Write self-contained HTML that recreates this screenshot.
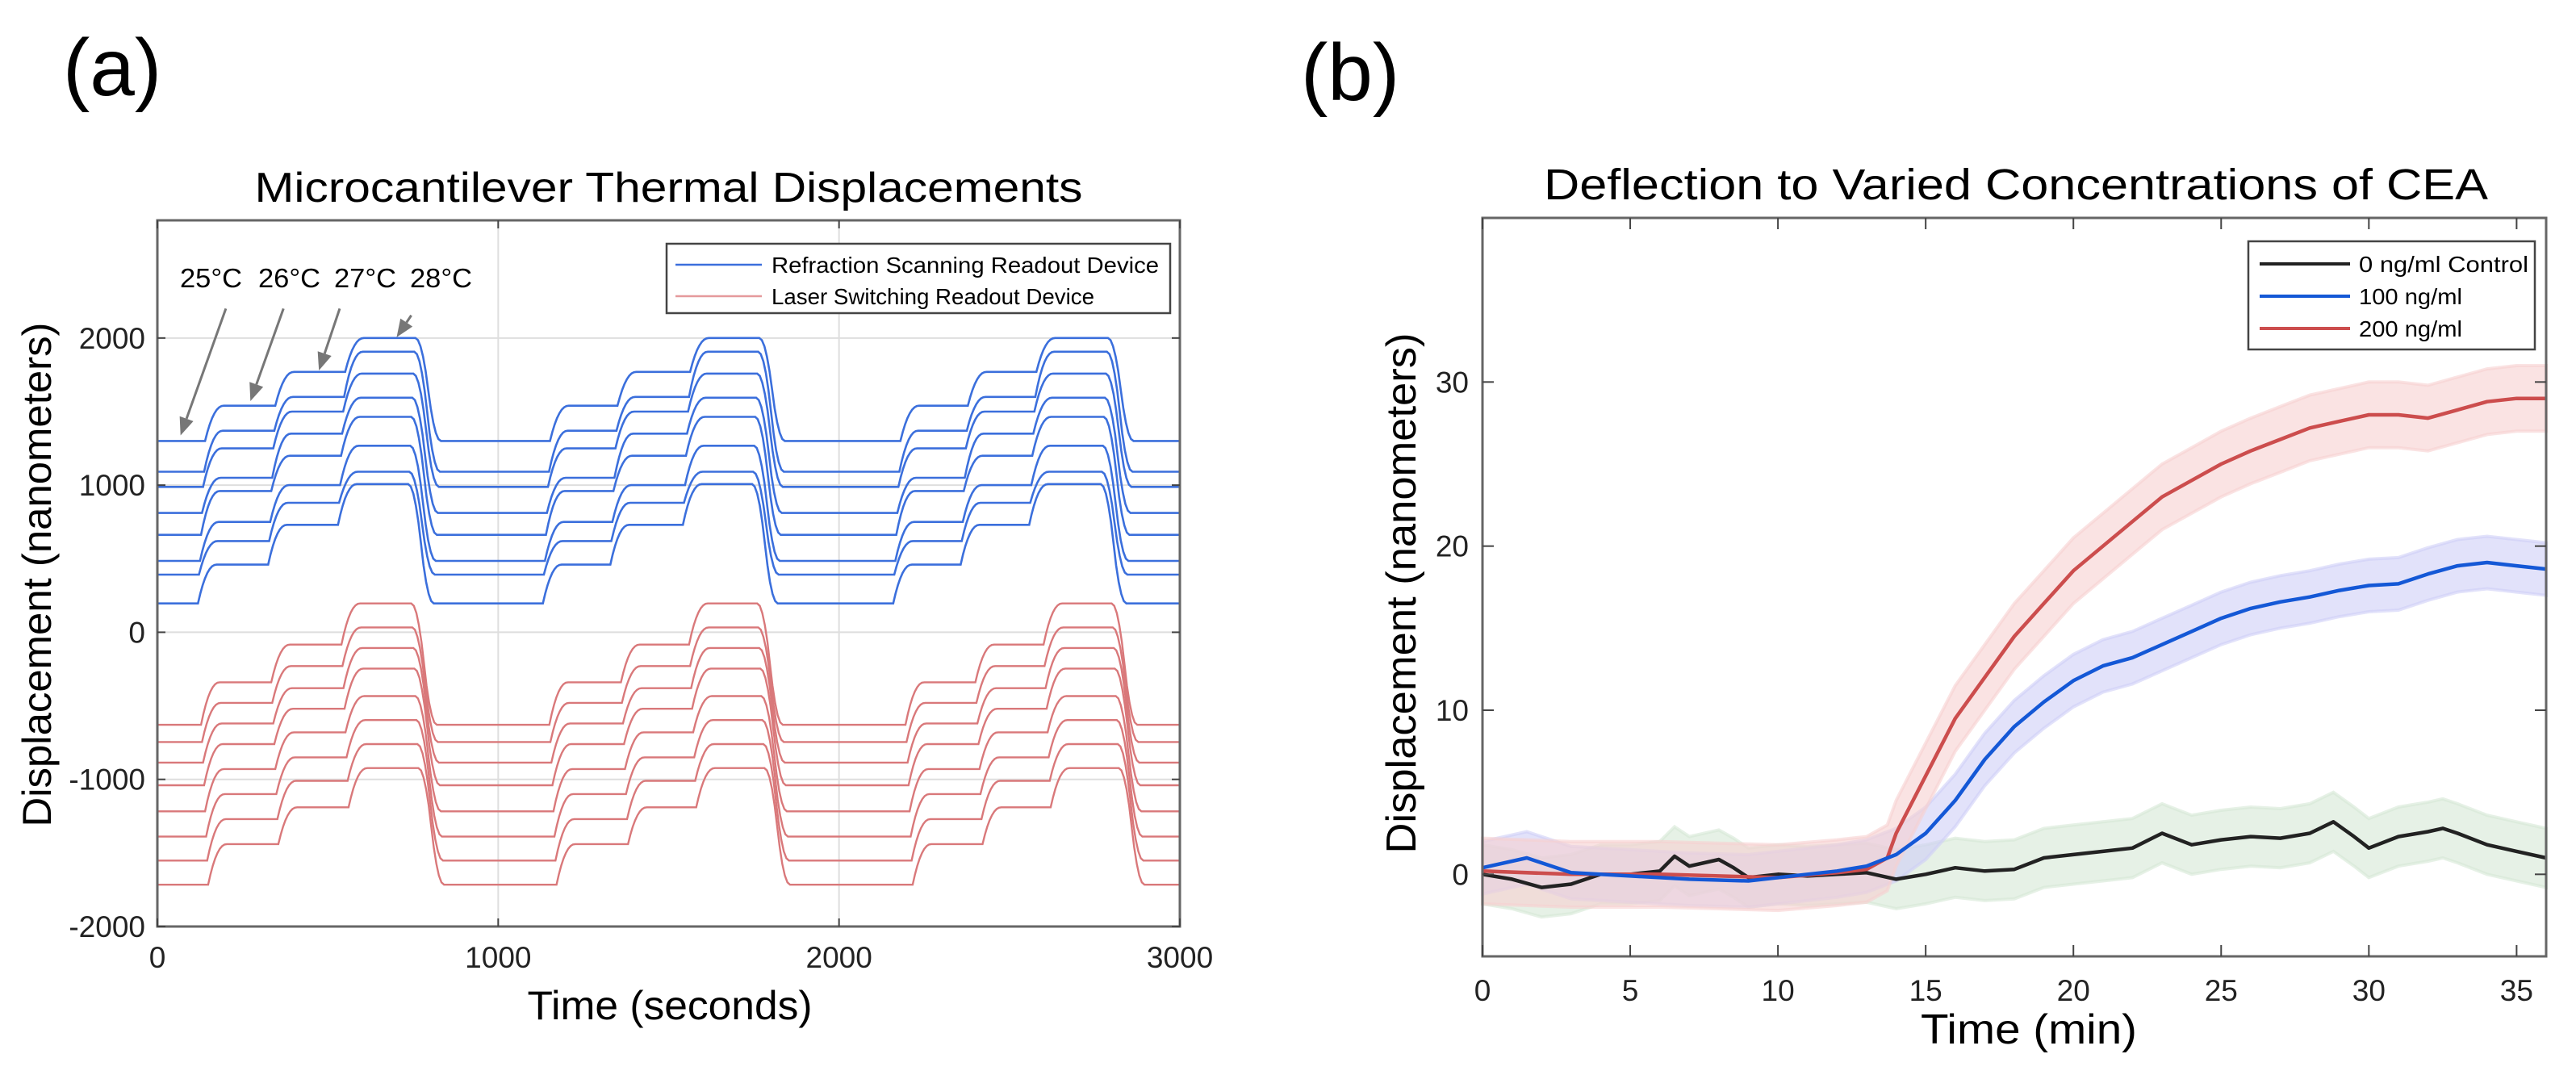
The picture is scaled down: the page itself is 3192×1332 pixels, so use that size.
<!DOCTYPE html>
<html><head><meta charset="utf-8"><style>
html,body{margin:0;padding:0;background:#fff;}
svg{display:block;font-family:"Liberation Sans",Arial,sans-serif;}
</style></head><body>
<svg id="fig" width="3192" height="1332" viewBox="0 0 3192 1332" xmlns="http://www.w3.org/2000/svg">
<text x="78" y="118" font-size="100" font-weight="300">(a)</text>
<text x="1612" y="124" font-size="100" font-weight="300">(b)</text>
<g id="pa"></g>
<g id="pb"></g>
</svg>
<script>
// ---------- Chart A data ----------
const aXTicks = [0, 1000, 2000, 3000];
const aYTicks = [-2000, -1000, 0, 1000, 2000];
const aYTickLabels = ["-2000", "-1000", "0", "1000", "2000"];
const aRiseTimesBlue = [[140, 346, 551], [1152, 1350, 1563], [2180, 2378, 2579]];
const aFallTimesBlue = [757, 1766, 2789];
const aRiseTimesRed = [[128, 334, 540], [1150, 1360, 1560], [2195, 2400, 2600]];
const aFallTimesRed = [745, 1760, 2800];
const blueLevels = [
 [1300,1540,1770,2000],[1091,1370,1600,1907],[988,1250,1500,1758],[811,1050,1350,1594],
 [662,960,1200,1464],[485,750,1000,1268],[392,620,880,1091],[196,460,730,1007]];
const redLevels = [
 [-629,-340,-84,196],[-746,-480,-230,33],[-886,-620,-380,-107],[-1040,-760,-520,-247],
 [-1217,-930,-680,-434],[-1389,-1100,-850,-597],[-1552,-1270,-1010,-760],[-1716,-1440,-1190,-923]];
const tempLabels = ["25°C","26°C","27°C","28°C"];
const arrowStarts = [[201,2200],[370,2200],[535,2200],[745,2154]];
const arrowTips = [[68,1338],[273,1571],[474,1780],[702,2005]];

// ---------- Chart B data ----------
const bXTicks = [0,5,10,15,20,25,30,35];
const bYTicks = [0,10,20,30];
const blackT = [0,1,2,3,4,5,6,6.5,7,8,8.5,9,10,11,12,13,14,15,16,17,18,19,20,21,22,23,24,25,26,27,28,28.8,29.5,30,31,32,32.5,33,34,35,36];
const blackV = [0,-0.3,-0.8,-0.6,0,0,0.2,1.1,0.5,0.9,0.4,-0.2,0,-0.1,0,0.1,-0.3,0,0.4,0.2,0.3,1,1.2,1.4,1.6,2.5,1.8,2.1,2.3,2.2,2.5,3.2,2.3,1.6,2.3,2.6,2.8,2.5,1.8,1.4,1.0];
const blueT = [0,1.5,3,5,7,9,11,12,13,14,15,16,17,18,19,20,21,22,23,24,25,26,27,28,29,30,31,32,33,34,35,36];
const blueV = [0.4,1,0.1,-0.1,-0.3,-0.4,0,0.2,0.5,1.2,2.5,4.5,7,9,10.5,11.8,12.7,13.2,14,14.8,15.6,16.2,16.6,16.9,17.3,17.6,17.7,18.3,18.8,19,18.8,18.6];
const redT = [0,3,6,8,10,12,13,13.7,14,15,16,17,18,19,20,21,22,23,24,25,26,27,28,29,30,31,32,33,34,35,36];
const redV = [0.2,0,0,-0.1,-0.2,0.1,0.3,1,2.5,6,9.5,12,14.5,16.5,18.5,20,21.5,23,24,25,25.8,26.5,27.2,27.6,28,28,27.8,28.3,28.8,29,29];
const legendA = ["Refraction Scanning Readout Device","Laser Switching Readout Device"];
const legendB = ["0 ng/ml Control","100 ng/ml","200 ng/ml"];

const NS="http://www.w3.org/2000/svg";
function mk(parent, tag, attrs, text){const e=document.createElementNS(NS,tag);for(const k in attrs)e.setAttribute(k,attrs[k]);if(text!==undefined)e.textContent=text;parent.appendChild(e);return e;}

// ===== Chart A =====
(function(){
 const g=document.getElementById('pa');
 const L=195,R=1462,T=273,B=1148;
 const xs=t=>L+(t/3000)*(R-L);
 const ys=v=>B-((v+2000)/4800)*(B-T);
 let e;
 e=mk(g,'text',{x:(L+R)/2,y:250,'font-size':52,'text-anchor':'middle',textLength:1026,lengthAdjust:'spacingAndGlyphs'},'Microcantilever Thermal Displacements');
 
 
 aXTicks.slice(1,3).forEach(t=>{e=mk(g,'line',{x1:xs(t),x2:xs(t),y1:T,y2:B,stroke:'#dedede','stroke-width':2});
  
  });
 aYTicks.slice(1).forEach(v=>{e=mk(g,'line',{x1:L,x2:R,y1:ys(v),y2:ys(v),stroke:'#dedede','stroke-width':2});
  
  });
 function trace(levels, rises, falls){
  const pts=[];
  pts.push([0,levels[0]]);
  for(let c=0;c<3;c++){
   for(let s=0;s<3;s++){
    const t0=rises[c][s];pts.push([t0,levels[s]]);
    for(let k=1;k<=8;k++){const f=k/8;const ease=1-Math.pow(1-f,2.2);pts.push([t0+f*55,levels[s]+(levels[s+1]-levels[s])*ease]);}
   }
   const tf=falls[c];pts.push([tf,levels[3]]);
   for(let k=1;k<=10;k++){const f=k/10;const ease=f<0.5?2*f*f:1-2*(1-f)*(1-f);pts.push([tf+f*75,levels[3]+(levels[0]-levels[3])*ease]);}
  }
  pts.push([3000,levels[0]]);
  return pts.map((p,i)=>(i?'L':'M')+xs(p[0]).toFixed(1)+','+ys(p[1]).toFixed(1)).join('');
 }
 redLevels.forEach((lv,i)=>{const off=i*3;
  e=mk(g,'path',{d:trace(lv,aRiseTimesRed.map(r=>r.map(x=>x+off)),aFallTimesRed.map(x=>x+off)),fill:'none',stroke:'#d9787a','stroke-width':2.4});
  
  });
 blueLevels.forEach((lv,i)=>{const off=-i*3;
  e=mk(g,'path',{d:trace(lv,aRiseTimesBlue.map(r=>r.map(x=>x+off)),aFallTimesBlue.map(x=>x+off)),fill:'none',stroke:'#3b6fdc','stroke-width':2.6});
  
  });
 e=mk(g,'rect',{x:L,y:T,width:R-L,height:B-T,fill:'none',stroke:'#666','stroke-width':3});
 
 
 aXTicks.forEach(t=>{mk(g,'line',{x1:xs(t),x2:xs(t),y1:B,y2:B-10,stroke:'#444','stroke-width':2});mk(g,'line',{x1:xs(t),x2:xs(t),y1:T,y2:T+10,stroke:'#444','stroke-width':2});
  e=mk(g,'text',{x:xs(t),y:1199,'font-size':37,'text-anchor':'middle',fill:'#222'},String(t));
  
  });
 aYTicks.forEach((v,i)=>{mk(g,'line',{x1:L,x2:L+10,y1:ys(v),y2:ys(v),stroke:'#444','stroke-width':2});mk(g,'line',{x1:R,x2:R-10,y1:ys(v),y2:ys(v),stroke:'#444','stroke-width':2});
  e=mk(g,'text',{x:180,y:ys(v)+13,'font-size':37,'text-anchor':'end',fill:'#222'},aYTickLabels[i]);
  
  });
 e=mk(g,'text',{x:830,y:1263,'font-size':50,'text-anchor':'middle',textLength:353,lengthAdjust:'spacingAndGlyphs'},'Time (seconds)');
 
 
 e=mk(g,'text',{x:0,y:0,'font-size':50,'text-anchor':'middle',textLength:625,lengthAdjust:'spacingAndGlyphs',transform:'translate(63,712) rotate(-90)'},'Displacement (nanometers)');
 
 
 const labX=[223,320,414,508];
 tempLabels.forEach((s,i)=>{e=mk(g,'text',{x:labX[i],y:356,'font-size':33,textLength:77,lengthAdjust:'spacingAndGlyphs'},s);
  
  });
 arrowStarts.forEach((s,i)=>{const x1=xs(s[0]),y1=ys(s[1]),x2=xs(arrowTips[i][0]),y2=ys(arrowTips[i][1]);
  const ang=Math.atan2(y2-y1,x2-x1),hl=22,hw=9;
  const bx=x2-hl*Math.cos(ang),by=y2-hl*Math.sin(ang);
  mk(g,'line',{x1:x1,y1:y1,x2:bx,y2:by,stroke:'#777','stroke-width':3});
  e=mk(g,'polygon',{points:`${x2},${y2} ${bx-hw*Math.sin(ang)},${by+hw*Math.cos(ang)} ${bx+hw*Math.sin(ang)},${by-hw*Math.cos(ang)}`,fill:'#777'});
  
  });
 const lg=mk(g,'g',{});
 
 
 mk(lg,'rect',{x:826,y:302,width:624,height:86,fill:'#fff',stroke:'#444','stroke-width':2.5});
 const cols=['#3b6fdc','#e59a9c'];const lens=[480,400];
 legendA.forEach((s,i)=>{const y=i?367:328;
  mk(lg,'line',{x1:837,x2:944,y1:y,y2:y,stroke:cols[i],'stroke-width':2.5});
  e=mk(lg,'text',{x:956,y:y+10,'font-size':28,textLength:lens[i],lengthAdjust:'spacingAndGlyphs'},s);
  
  });
})();

// ===== Chart B =====
(function(){
 const g=document.getElementById('pb');
 const L=1837,R=3155,T=270,B=1185;
 const xs=t=>L+(t/36)*(R-L);
 const ys=v=>B-((v+5)/45)*(B-T);
 let e;
 e=mk(g,'text',{x:2498,y:247,'font-size':54,'text-anchor':'middle',textLength:1170,lengthAdjust:'spacingAndGlyphs'},'Deflection to Varied Concentrations of CEA');
 
 
 const path=(T_,V_,dv)=>T_.map((t,i)=>(i?'L':'M')+xs(t).toFixed(1)+','+ys(V_[i]+dv).toFixed(1)).join('');
 const band=(T_,V_,d)=>{const up=T_.map((t,i)=>xs(t).toFixed(1)+','+ys(V_[i]+d).toFixed(1));const dn=T_.map((t,i)=>xs(t).toFixed(1)+','+ys(V_[i]-d).toFixed(1)).reverse();return up.concat(dn).join(' ');};
 const bands=[[blackT,blackV,'#d6e8d6',1.8],[blueT,blueV,'#cfcff6',1.6],[redT,redV,'#f6d0d0',2]];
 bands.forEach(b=>{e=mk(g,'polygon',{points:band(b[0],b[1],b[3]),fill:b[2],'fill-opacity':0.6,stroke:b[2],'stroke-width':4,'stroke-opacity':0.6});
  
  });
 const series=[[blackT,blackV,'#222','series-control'],[redT,redV,'#cc4d4d','series-200'],[blueT,blueV,'#1458d6','series-100']];
 series.forEach(s=>{e=mk(g,'path',{d:path(s[0],s[1],0),fill:'none',stroke:s[2],'stroke-width':4.5,'stroke-linejoin':'round'});
  
  });
 e=mk(g,'rect',{x:L,y:T,width:R-L,height:B-T,fill:'none',stroke:'#666','stroke-width':3});
 
 
 bXTicks.forEach(t=>{mk(g,'line',{x1:xs(t),x2:xs(t),y1:B,y2:B-14,stroke:'#444','stroke-width':2});mk(g,'line',{x1:xs(t),x2:xs(t),y1:T,y2:T+14,stroke:'#444','stroke-width':2});
  e=mk(g,'text',{x:xs(t),y:1240,'font-size':37,'text-anchor':'middle',fill:'#222'},String(t));
  
  });
 bYTicks.forEach(v=>{mk(g,'line',{x1:L,x2:L+14,y1:ys(v),y2:ys(v),stroke:'#444','stroke-width':2});mk(g,'line',{x1:R,x2:R-14,y1:ys(v),y2:ys(v),stroke:'#444','stroke-width':2});
  e=mk(g,'text',{x:1820,y:ys(v)+13,'font-size':37,'text-anchor':'end',fill:'#222'},String(v));
  
  });
 e=mk(g,'text',{x:2514,y:1293,'font-size':52,'text-anchor':'middle',textLength:268,lengthAdjust:'spacingAndGlyphs'},'Time (min)');
 
 
 e=mk(g,'text',{x:0,y:0,'font-size':52,'text-anchor':'middle',textLength:645,lengthAdjust:'spacingAndGlyphs',transform:'translate(1754,735) rotate(-90)'},'Displacement (nanometers)');
 
 
 const lg=mk(g,'g',{});
 
 
 mk(lg,'rect',{x:2786,y:299,width:355,height:134,fill:'#fff',stroke:'#444','stroke-width':2.5});
 const cols=['#222','#1458d6','#cc4d4d'];const ys_=[327,367,407];const lens=[210,128,128];
 legendB.forEach((s,i)=>{mk(lg,'line',{x1:2800,x2:2912,y1:ys_[i],y2:ys_[i],stroke:cols[i],'stroke-width':4});
  e=mk(lg,'text',{x:2923,y:ys_[i]+10,'font-size':28,textLength:lens[i],lengthAdjust:'spacingAndGlyphs'},s);
  
  });
})();
</script>
</body></html>
